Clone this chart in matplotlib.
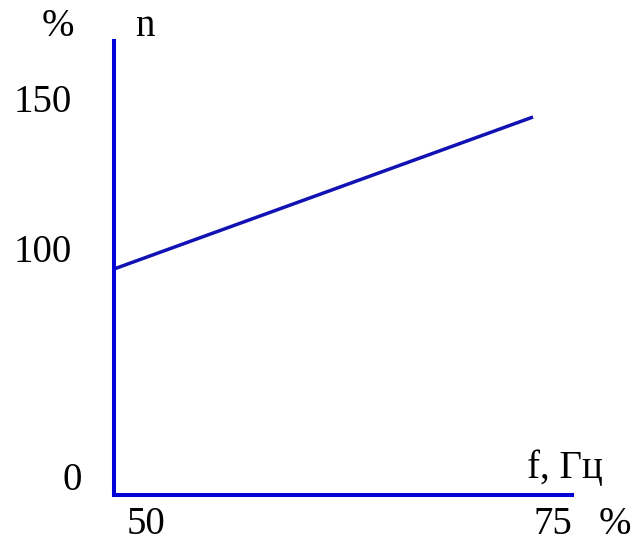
import matplotlib
matplotlib.use("Agg")
import matplotlib.pyplot as plt

# Data (schematic): motor speed n (%) versus supply frequency f
freq = [50, 75]          # f, % / Hz scale
speed = [94.3, 145.3]    # n, %
y_tick_labels = ["150", "100", "0"]
x_tick_labels = ["50", "75"]

W, H = 634, 544
fig = plt.figure(figsize=(W / 100, H / 100), dpi=100)
plt.rcParams['font.family'] = ['Liberation Serif', 'DejaVu Serif']

def fx(px):
    return px / W

def fy(py):
    return 1 - py / H

left, right, top, bottom = 114, 572, 41, 495
ax = fig.add_axes([fx(left), fy(bottom), (right - left) / W, (bottom - top) / H])
ax.set_facecolor('none')

# scale: 50 -> px 114, 75 -> px 533 ; 100 -> px 252, 150 -> px 103
sx = (533 - 114) / 25.0
sy = (252 - 103) / 50.0
ax.set_xlim(50, 50 + (right - left) / sx)
ax.set_ylim(100 - (bottom - 252) / sy, 150 + (103 - top) / sy)

ax.plot(freq, speed, color='#1212b4', lw=2.5, solid_capstyle='butt')

for s in ['top', 'right']:
    ax.spines[s].set_visible(False)
for s in ['left', 'bottom']:
    ax.spines[s].set_color('#0000d8')
    ax.spines[s].set_linewidth(2.9)
ax.set_xticks([])
ax.set_yticks([])

fs = 28
# y tick labels
ypos = [103, 252, 481]
xpos = [43, 43, 72]
for lab, x, y in zip(y_tick_labels, xpos, ypos):
    fig.text(fx(x), fy(y), lab, ha='center', va='center', fontsize=fs)
# x tick labels
for lab, x in zip(x_tick_labels, [146, 553]):
    fig.text(fx(x), fy(524), lab, ha='center', va='center', fontsize=fs)

fig.text(fx(58), fy(27), '%', ha='center', va='center', fontsize=fs)
fig.text(fx(145), fy(26), 'n', ha='center', va='center', fontsize=fs)
fig.text(fx(615), fy(524), '%', ha='center', va='center', fontsize=fs)
fig.text(fx(565), fy(468), 'f, Гц', ha='center', va='center', fontsize=fs)

fig.savefig('out.png', dpi=100)
